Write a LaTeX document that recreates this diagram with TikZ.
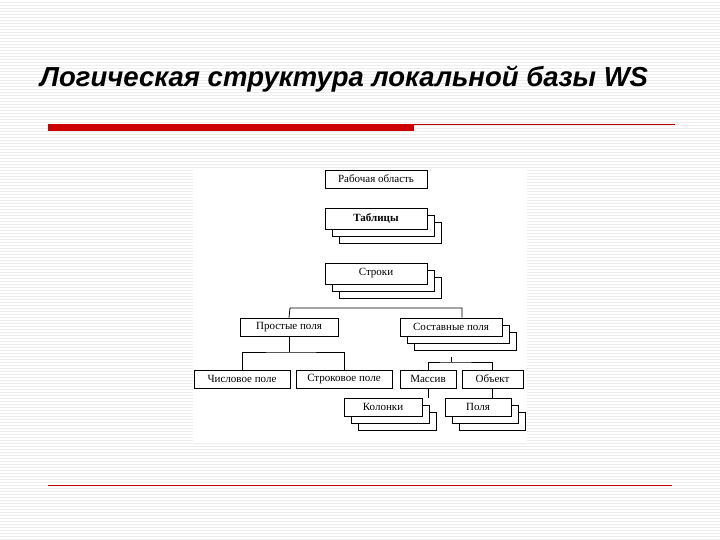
\documentclass[tikz,border=0pt]{standalone}
\usepackage{fontspec}
\setmainfont{Liberation Serif}
\newfontfamily\titlefont{Liberation Sans}
\begin{document}
\begin{tikzpicture}[x=1pt,y=-1pt,
  bx/.style={draw=black,fill=white,line width=0.8pt,minimum height=18pt,inner sep=1pt,font=\fontsize{11}{11}\selectfont},
  conn/.style={draw=black,line width=0.8pt}]
\useasboundingbox (0,0) rectangle (720,540);
\fill[white] (0,0) rectangle (720,540);
\foreach \y in {2,5,...,539} \draw[black!7,line width=0.6pt] (0,\y) -- (720,\y);
\node[anchor=base west,inner sep=0pt,font=\titlefont\bfseries\itshape\fontsize{27.5}{27.5}\selectfont] (title) at (40,87) {Логическая структура локальной базы WS};
\fill[red!80!black] (48,124) rectangle (414,131);
\draw[red!70!black,line width=0.6pt] (414,124) -- (675,124);
\draw[red!75!black,line width=0.7pt] (48,485) -- (672,485);
\fill[white] (193,168) rectangle (527,442);
% shadows
\def\shad#1#2#3#4{\draw[line width=0.8pt,fill=white] (#1+14,#2+14) rectangle (#3+14,#4+14);
  \draw[line width=0.8pt,fill=white] (#1+7,#2+7) rectangle (#3+7,#4+7);}
\shad{325}{208}{427}{229}
\shad{325}{263}{427}{284}
\shad{400}{318}{502}{336}
\shad{344}{398}{422}{416}
\shad{445}{398}{511}{416}
\node[bx,minimum width=102pt] (ws) at (376,179) {Рабочая область};
\node[bx,minimum width=102pt,minimum height=21pt,font=\bfseries\fontsize{11}{11}\selectfont] (tab) at (376,218.5) {Таблицы};
\node[bx,minimum width=102pt,minimum height=21pt] (str) at (376,273.5) {Строки};
\node[bx,minimum width=98pt] (simple) at (289,327) {Простые поля};
\node[bx,minimum width=102pt] (comp) at (451,327) {Составные поля};
\node[bx,minimum width=96pt] (num) at (242,379) {Числовое поле};
\node[bx,minimum width=96pt] (sf) at (344,379) {Строковое поле};
\node[bx,minimum width=56pt] (arr) at (428,379) {Массив};
\node[bx,minimum width=61pt] (obj) at (492.5,379) {Объект};
\node[bx,minimum width=78pt] (col) at (383,407) {Колонки};
\node[bx,minimum width=66pt] (fld) at (478,407) {Поля};
\coordinate (h1) at (290,308);
\coordinate (h2) at (462,308);
\draw[conn] (simple.north) -- (h1) -- (h2) -- (h2|-comp.north);
\coordinate (s1) at (289,352);
\draw[conn] (simple.south) -- (s1);
\draw[conn] (num.north) |- (s1) -| (sf.north);
\coordinate (c1) at (451,362);
\draw[conn] (comp.south) ++(0,21) -- (c1);
\draw[conn] (arr.north) |- (c1) -| (obj.north);
\draw[conn] (arr.south) -- (arr.south|-col.north);
\draw[conn] (obj.south) -- (obj.south|-fld.north);
\end{tikzpicture}
\end{document}
